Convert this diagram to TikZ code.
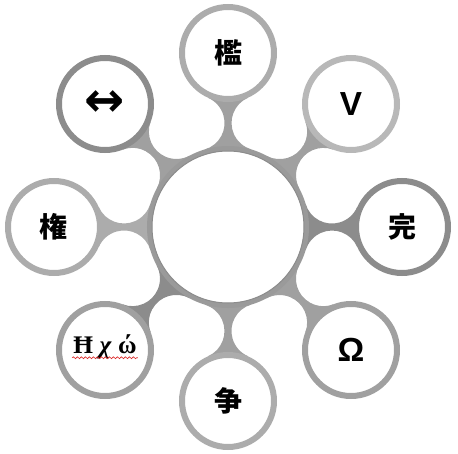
\documentclass[tikz,border=0pt]{standalone}
\usepackage{fontspec}
\usepackage{tikz}
\usetikzlibrary{decorations.pathmorphing}

\newfontfamily\cjkfont{Noto Sans CJK JP}
\newfontfamily\arialfont{Liberation Sans}
\newfontfamily\symfont{DejaVu Sans}
\newfontfamily\timesfont{Liberation Serif}

\definecolor{ringhub}{RGB}{154,154,154}
\definecolor{ringlight}{RGB}{172,172,172}
\definecolor{ringpale}{RGB}{184,184,184}
\definecolor{ringmid}{RGB}{160,160,160}
\definecolor{ringdark}{RGB}{140,140,140}
\definecolor{squiggle}{RGB}{220,40,40}

\tikzset{
  hub/.style={circle, draw=ringhub, line width=3.75pt, fill=white, minimum size=117.75pt, inner sep=0pt},
  sat/.style={circle, line width=4.5pt, fill=white, minimum size=69pt, inner sep=0pt},
  % neck between hub (r=81) and satellite (r=49, 174 away), fillet radius 27.5
  pics/neck/.style={code={
    \fill[#1] (77.6,23.1) arc[start angle=196.6, end angle=336.1, radius=27.5] -- (140,0)
      -- (129.2,-19.9) arc[start angle=23.9, end angle=163.4, radius=27.5] -- (60,0) -- cycle;
  }}
}

\begin{document}
\begin{tikzpicture}[x=0.75pt,y=0.75pt,yscale=-1,xscale=1]
    \useasboundingbox (0,0) rectangle (458,454);

    % hub position
    \coordinate (c) at (228,227);

    % Necks
    \pic[rotate=-90] at (c) {neck=ringmid};
    \pic[rotate=-45] at (c) {neck=ringmid};
    \pic[rotate=0] at (c) {neck=ringdark};
    \pic[rotate=45] at (c) {neck=ringmid};
    \pic[rotate=90] at (c) {neck=ringmid};
    \pic[rotate=135] at (c) {neck=ringmid};
    \pic[rotate=180] at (c) {neck=ringlight};
    \pic[rotate=225] at (c) {neck=ringdark};

    % Hub circle
    \node[hub] (hub) at (c) {};
    \draw[ringdark, line width=0.75pt] (hub.center) circle (76);

    % Satellites
    \node[sat, draw=ringlight] (kan) at (228,53) {\cjkfont\bfseries\fontsize{21}{25}\selectfont 檻};
    \node[sat, draw=ringpale] (vee) at (351,104) {\arialfont\bfseries\fontsize{25}{30}\selectfont V};
    \node[sat, draw=ringdark] (kanryo) at (402,227) {\cjkfont\bfseries\fontsize{21}{25}\selectfont 完};
    \node[sat, draw=ringmid] (omega) at (351,350) {\arialfont\bfseries\fontsize{25}{30}\selectfont Ω};
    \node[sat, draw=ringlight] (sou) at (228,401) {\cjkfont\bfseries\fontsize{21}{25}\selectfont 争};
    \node[sat, draw=ringmid] (hchi) at (105,350) {};
    \node[sat, draw=ringlight] (ken) at (54,227) {\cjkfont\bfseries\fontsize{21}{25}\selectfont 権};
    \node[sat, draw=ringdark] (arrow) at (105,104) {\symfont\bfseries\fontsize{36}{40}\selectfont ↔};

    % Text Node
    \node[inner sep=0.75pt] (hchitext) at (105,347) {\timesfont\bfseries\fontsize{19}{23}\selectfont Ħ \textit{χ} ώ};
    \draw[squiggle, line width=0.5pt, decorate, decoration={snake, amplitude=0.7, segment length=3}]
      ([yshift=-2]hchitext.south west) -- ([yshift=-2]hchitext.south east);

\end{tikzpicture}
\end{document}
